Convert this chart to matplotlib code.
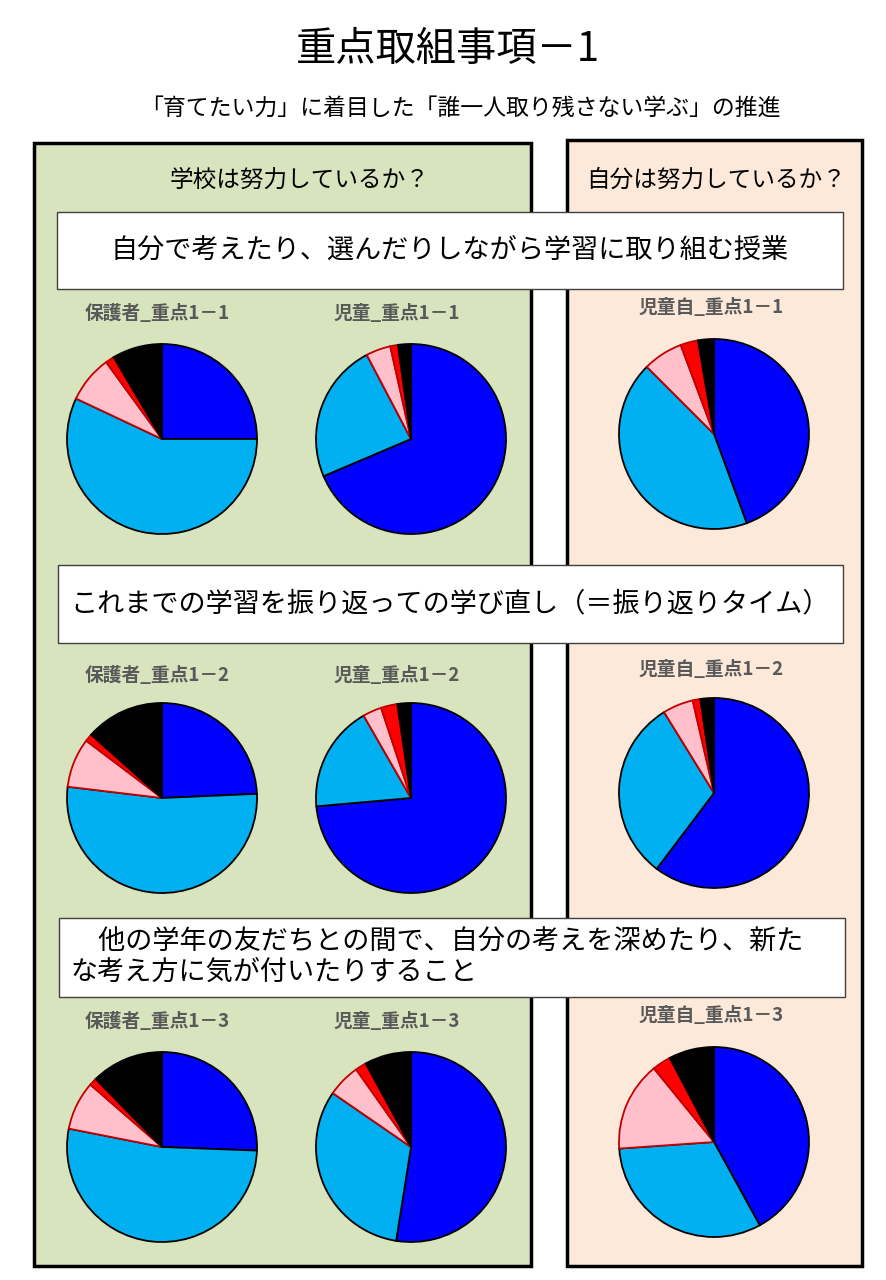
import matplotlib
matplotlib.use("Agg")
import matplotlib.pyplot as plt
from matplotlib.patches import Rectangle

plt.rcParams['font.family'] = ['Noto Sans CJK JP', 'DejaVu Sans']

W, H = 886, 1280

# answer shares (%), order: blue, light blue, pink, red, black
hogosha = [[25.0, 57.0, 8.0, 1.5, 8.5],
           [24.3, 52.6, 8.4, 1.3, 13.4],
           [25.6, 52.5, 8.3, 1.3, 12.3]]
jido = [[68.6, 23.7, 4.2, 1.3, 2.2],
        [73.6, 18.1, 3.2, 2.8, 2.3],
        [52.5, 32.1, 5.6, 1.9, 7.9]]
jidoji = [[44.4, 43.1, 6.8, 3.0, 2.7],
          [60.3, 30.9, 5.2, 1.3, 2.3],
          [42.0, 31.9, 15.2, 3.2, 7.7]]

colors = ['#0000ff', '#00b0f0', '#ffc0cb', '#ff0000', '#000000']
edges = ['#000000', '#000000', '#c00000', '#c00000', '#000000']

titles_hogosha = ['保護者_重点1－1', '保護者_重点1－2', '保護者_重点1－3']
titles_jido = ['児童_重点1－1', '児童_重点1－2', '児童_重点1－3']
titles_jidoji = ['児童自_重点1－1', '児童自_重点1－2', '児童自_重点1－3']

themes = ['自分で考えたり、選んだりしながら学習に取り組む授業',
          'これまでの学習を振り返っての学び直し（＝振り返りタイム）',
          '　他の学年の友だちとの間で、自分の考えを深めたり、新た\nな考え方に気が付いたりすること']


def fx(x):
    return x / W


def fy(y):
    return 1 - y / H


def rect(x0, y0, x1, y1, fc, ec, lw, z):
    r = Rectangle((fx(x0), fy(y1)), (x1 - x0) / W, (y1 - y0) / H,
                  transform=fig.transFigure, facecolor=fc, edgecolor=ec,
                  linewidth=lw, zorder=z)
    fig.add_artist(r)


def pie(cx, cy, r, vals):
    pad = 1.06
    ax = fig.add_axes([fx(cx - r * pad), fy(cy + r * pad),
                       2 * r * pad / W, 2 * r * pad / H])
    wedges, _ = ax.pie(vals, colors=colors, startangle=90, counterclock=False,
                       wedgeprops=dict(linewidth=1.3))
    for w, ec in zip(wedges, edges):
        w.set_edgecolor(ec)
    ax.set_xlim(-pad, pad)
    ax.set_ylim(-pad, pad)
    ax.set_aspect('equal')
    ax.axis('off')


fig = plt.figure(figsize=(W / 100, H / 100), dpi=100)
fig.patch.set_facecolor('white')

fig.text(fx(448), fy(50), '重点取組事項－1', ha='center', va='center', fontsize=29)
fig.text(fx(460), fy(108), '「育てたい力」に着目した「誰一人取り残さない学ぶ」の推進',
         ha='center', va='center', fontsize=16.5)

# panels
rect(34, 143, 531, 1266, '#d7e4bd', '#000000', 2.5, -2)
rect(567, 140, 862, 1266, '#fde9d9', '#000000', 2.5, -2)
fig.text(fx(300), fy(180), '学校は努力しているか？', ha='center', va='center', fontsize=17)
fig.text(fx(716), fy(180), '自分は努力しているか？', ha='center', va='center', fontsize=17)

# theme boxes
boxes = [(57, 212, 843, 289), (58, 565, 843, 643), (59, 918, 845, 997)]
for (x0, y0, x1, y1), t in zip(boxes, themes):
    rect(x0, y0, x1, y1, 'white', '#404040', 1.0, -1)
    if '\n' in t:
        fig.text(fx(71), fy((y0 + y1) / 2), t, ha='left', va='center',
                 fontsize=19.5, linespacing=1.15)
    else:
        fig.text(fx((x0 + x1) / 2), fy((y0 + y1) / 2), t, ha='center',
                 va='center', fontsize=19.5)

title_y = [313, 675, 1022]
pie_y = [439, 798, 1147]
r = 95
for i in range(3):
    fig.text(fx(157), fy(title_y[i]), titles_hogosha[i], ha='center', va='center',
             fontsize=13.5, fontweight='bold', color='#595959')
    fig.text(fx(397), fy(title_y[i]), titles_jido[i], ha='center', va='center',
             fontsize=13.5, fontweight='bold', color='#595959')
    fig.text(fx(711), fy(title_y[i] - 6), titles_jidoji[i], ha='center', va='center',
             fontsize=13.5, fontweight='bold', color='#595959')
    pie(162, pie_y[i], r, hogosha[i])
    pie(411, pie_y[i], r, jido[i])
    pie(714, pie_y[i] - 5, r, jidoji[i])

fig.savefig('out.png', dpi=100)
